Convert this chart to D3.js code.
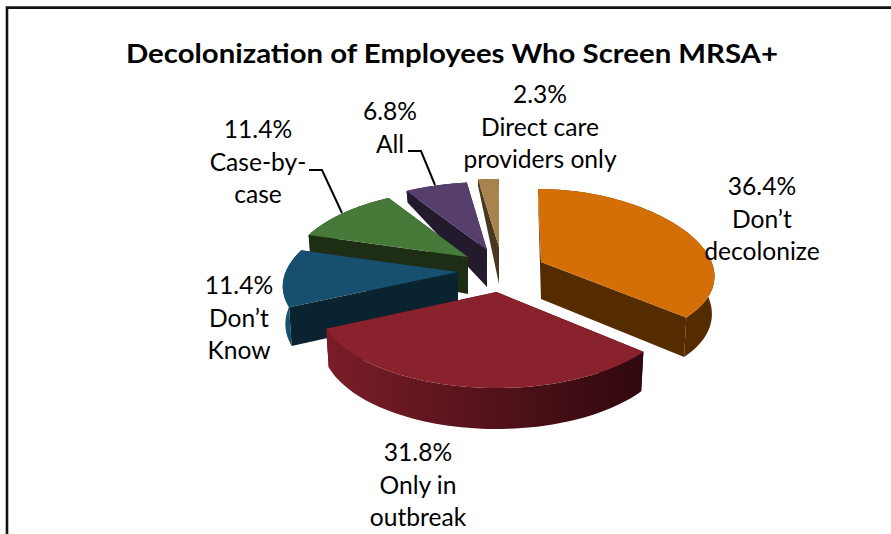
<!DOCTYPE html>
<html><head><meta charset="utf-8">
<script src="https://cdn.jsdelivr.net/npm/d3@7"></script>
<style>html,body{margin:0;padding:0;background:#fff}svg{display:block}text{font-family:Lato,"Noto Sans",sans-serif;fill:#000}</style>
</head><body><script>
// ---- data ----
const titleText = "Decolonization of Employees Who Screen MRSA+";
const categories = ["Don’t decolonize","Only in outbreak","Don’t Know","Case-by-case","All","Direct care providers only"];
const values = [36.4,31.8,11.4,11.4,6.8,2.3];
const labelLines = [["Don’t","decolonize"],["Only in","outbreak"],["Don’t","Know"],["Case-by-","case"],["All"],["Direct care","providers only"]];
// ---- styling / layout ----
const topColors  = ["#D46F07","#8A222E","#17506F","#477A39","#563F6C","#A9834C"];
const wallColors = ["#552C00","#3A0A10","#0A2331","#1D2E15","#231A2E","#483820"];
const outerStart = ["#552C00","#7A1D28","#17506F","#1D2E15","#231A2E","#483820"];
const outerEnd   = ["#552C00","#2F080D","#0A2331","#1D2E15","#231A2E","#483820"];
const explodeX = [43,-1.5,-40,-30,-11,1];
const explodeY = [-8,22,2,-13,-20,-23];
const radiusX  = [0.975,1.0,0.985,1,1,1];
const depthBase  = [80,82,80,82,82,82];
const depthCurve = [7,14,10,14,14,14];
const drawOrder = [5,4,3,2,0,1];
const labelX = [762,418,239,258,390,540];
const labelY = [195,461,294,138,120,103];
const leaders = [[[309,170],[322,170],[342,213]],[[408,151],[421,151],[435,185]]];
const W=891,H=534,cx=498,cy=270,Rx=175;

const svg=d3.select("body").append("svg").attr("width",W).attr("height",H);
const defs=svg.append("defs");

// chart frame: left and top edges, clipped by the window on the other sides
svg.append("path").attr("d",`M7,${H+5}V7.6H${W+5}`).attr("fill","none").attr("stroke","#111").attr("stroke-width",2.6);

svg.append("text").text(titleText).attr("x",452).attr("y",63).attr("text-anchor","middle")
  .attr("font-size",27).attr("font-weight",700)
  .attr("textLength",652).attr("lengthAdjust","spacingAndGlyphs");

const arcs=d3.pie().sort(null).value(d=>d)(values);

function project(i,a,bottom){
  const ax=cx+explodeX[i], ay=cy+explodeY[i];
  const X=Math.sin(a), Y=-Math.cos(a);
  const sc=bottom?0.985:1;
  const x=ax+X*Rx*radiusX[i]*(1+0.17*Y)*sc+explodeX[i]*0.07*Y;
  let y=ay+Y*(depthBase[i]+depthCurve[i]*Y);
  if(bottom) y+= Y<0 ? 37+30*Y : 37+4*Y;
  return [x,y];
}
function apex(i,bottom){return [cx+explodeX[i],cy+explodeY[i]+(bottom?37:0)];}
const line=d3.line();

drawOrder.forEach(i=>{
  const d=arcs[i];
  const angs=d3.range(0,61).map(k=>d.startAngle+(d.endAngle-d.startAngle)*k/60);
  const g=svg.append("g");
  const gid="outer"+i;
  const pa=project(i,d.startAngle),pb=project(i,d.endAngle);
  const lg=defs.append("linearGradient").attr("id",gid).attr("gradientUnits","userSpaceOnUse")
    .attr("x1",Math.min(pa[0],pb[0])).attr("x2",Math.max(pa[0],pb[0])).attr("y1",0).attr("y2",0);
  lg.append("stop").attr("offset",0).attr("stop-color",outerStart[i]);
  lg.append("stop").attr("offset",1).attr("stop-color",outerEnd[i]);
  // radial walls
  [d.startAngle,d.endAngle].forEach(a=>{
    g.append("path").attr("d",line([project(i,a),apex(i),apex(i,true),project(i,a,true)])+"Z").attr("fill",wallColors[i]);
  });
  // outer wall
  const outer=angs.map(a=>project(i,a)).concat(angs.slice().reverse().map(a=>project(i,a,true)));
  g.append("path").attr("d",line(outer)+"Z").attr("fill",`url(#${gid})`);
  // top face
  const top=[apex(i)].concat(angs.map(a=>project(i,a)));
  g.append("path").attr("d",line(top)+"Z").attr("fill",topColors[i]);
});

leaders.forEach(p=>svg.append("path").attr("d",line(p)).attr("fill","none").attr("stroke","#000").attr("stroke-width",2));

const fmt=d3.format(".1f");
values.forEach((v,i)=>{
  const lines=[fmt(v)+"%"].concat(labelLines[i]);
  const t=svg.append("text").attr("text-anchor","middle").attr("font-size",24.6);
  lines.forEach((s,k)=>t.append("tspan").attr("x",labelX[i]).attr("y",labelY[i]+k*32.5).text(s));
});
</script></body></html>
